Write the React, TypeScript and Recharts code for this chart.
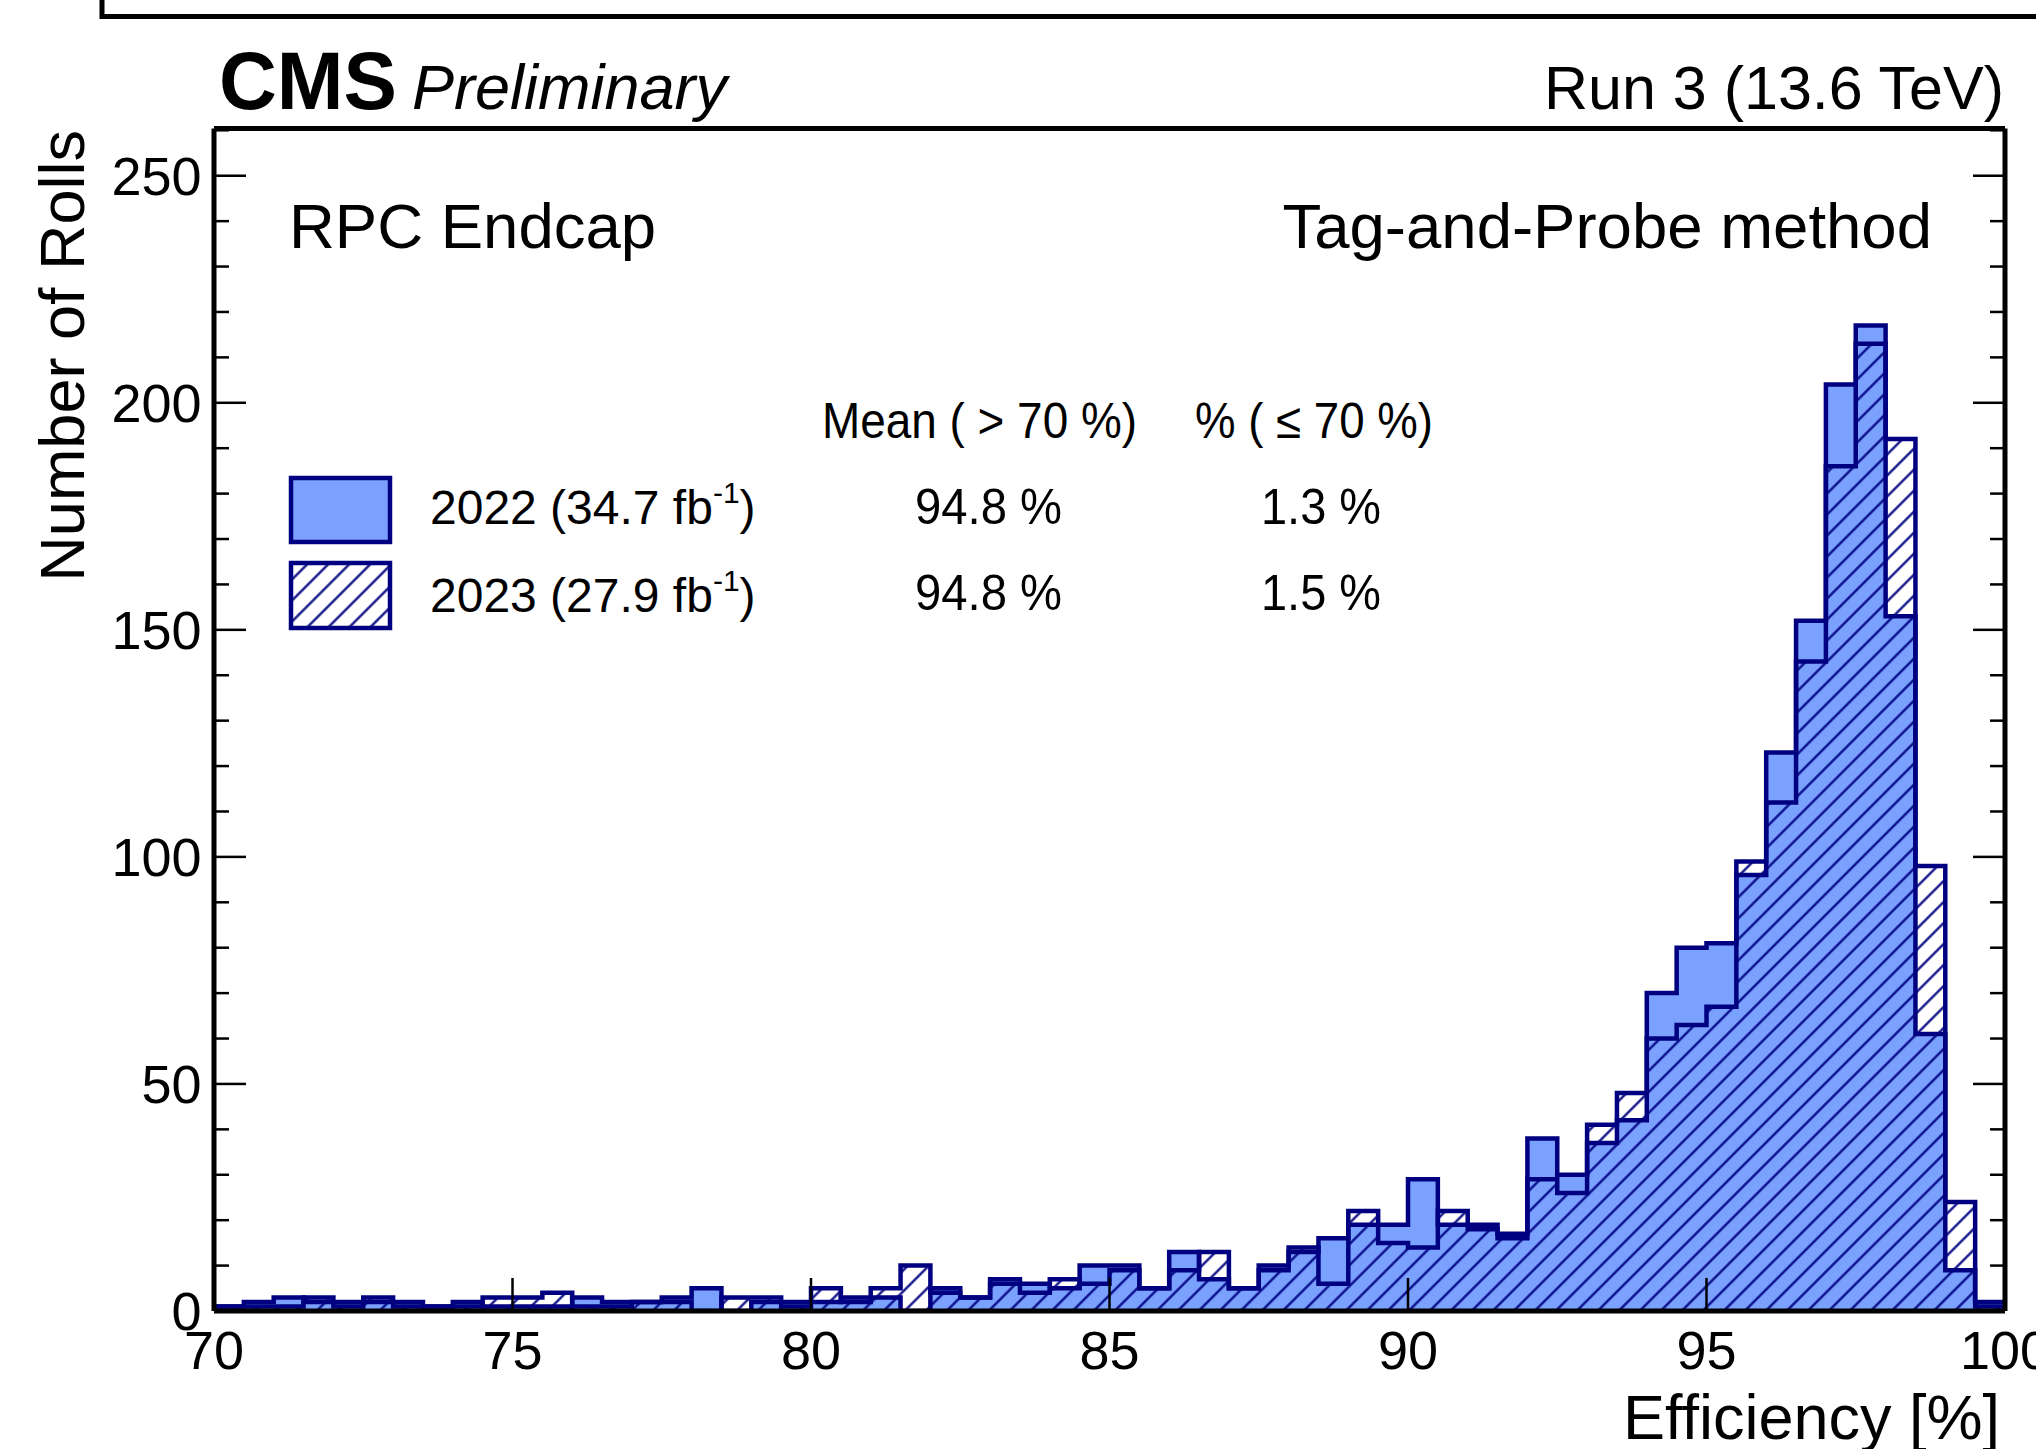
import { ComposedChart, Area, XAxis, YAxis } from 'recharts'

// histogram bins (0.5 % wide), lower edge of each bin
const binStart = [
  70, 70.5, 71, 71.5, 72, 72.5, 73, 73.5, 74, 74.5,
  75, 75.5, 76, 76.5, 77, 77.5, 78, 78.5, 79, 79.5,
  80, 80.5, 81, 81.5, 82, 82.5, 83, 83.5, 84, 84.5,
  85, 85.5, 86, 86.5, 87, 87.5, 88, 88.5, 89, 89.5,
  90, 90.5, 91, 91.5, 92, 92.5, 93, 93.5, 94, 94.5,
  95, 95.5, 96, 96.5, 97, 97.5, 98, 98.5, 99, 99.5,
]
const lastEdge = 100

const rolls2022 = [
  1, 2, 3, 2, 2, 2, 2, 1, 2, 1,
  1, 1, 3, 2, 2, 3, 5, 0, 2, 2,
  2, 3, 3, 0, 5, 3, 7, 6, 5, 10,
  10, 5, 13, 7, 5, 10, 13, 16, 19, 19,
  29, 19, 19, 16, 38, 30, 37, 42, 70, 80,
  81, 96, 123, 152, 204, 217, 153, 61, 9, 2,
]
const rolls2023 = [
  1, 1, 1, 3, 1, 3, 1, 1, 1, 3,
  3, 4, 1, 1, 2, 2, 0, 3, 3, 1,
  5, 2, 5, 10, 4, 3, 6, 4, 7, 6,
  9, 5, 9, 13, 5, 9, 14, 6, 22, 15,
  14, 22, 18, 17, 29, 26, 41, 48, 60, 63,
  67, 99, 112, 143, 186, 213, 192, 98, 24, 1,
]

const xMajorTicks = [70, 75, 80, 85, 90, 95, 100]
const xMinorTicks = [71, 72, 73, 74, 76, 77, 78, 79, 81, 82, 83, 84, 86, 87, 88, 89, 91, 92, 93, 94, 96, 97, 98, 99]
const yMajorTicks = [0, 50, 100, 150, 200, 250]
const yMinorTicks = [10, 20, 30, 40, 60, 70, 80, 90, 110, 120, 130, 140, 160, 170, 180, 190, 210, 220, 230, 240, 260]
const yMax = 260.4

const legendYears = ['2022', '2023']
const legendLumi = ['34.7', '27.9']
const meanAbove70 = ['94.8 %', '94.8 %']
const fracBelow70 = ['1.3 %', '1.5 %']

const NAVY = '#000080'
const BLUE = '#7ba1ff'
const FONT = "'Liberation Sans', Arial, Helvetica, sans-serif"

const histData = binStart.map((x, i) => ({ eff: x, r22: rolls2022[i], r23: rolls2023[i] }))
histData.push({ eff: lastEdge, r22: rolls2022[rolls2022.length - 1], r23: rolls2023[rolls2023.length - 1] })

const tickFont = { fontSize: 54, fill: '#000', fontFamily: FONT }
const tickLn = { stroke: '#000', strokeWidth: 2.5 }
const frameLn = { stroke: '#000', strokeWidth: 5 }
const noLabel = () => ''

const App = () => {
  return (
    <div style={{ position: 'absolute', left: 0, top: 0, width: 2036, height: 1449, background: '#fff', overflow: 'hidden' }}>
      <div style={{ position: 'absolute', left: 0, top: 0 }}>
        <ComposedChart
          width={2036}
          height={1449}
          data={histData}
          margin={{ top: 126.5, right: 29, bottom: 136, left: 212 }}
        >
          <defs>
            <pattern id="hatch23" patternUnits="userSpaceOnUse" width={14.85} height={14.85} patternTransform="rotate(45)">
              <line x1={7.4} y1={-1} x2={7.4} y2={16} stroke={NAVY} strokeWidth={2.2} />
            </pattern>
          </defs>

          {/* major axes first (they sit on the frame), minor ones 1px further out */}
          <XAxis xAxisId="x" dataKey="eff" type="number" domain={[70, 100]} allowDataOverflow ticks={xMajorTicks} interval={0}
            height={1} tickSize={-33} tickMargin={53} tick={tickFont} tickLine={tickLn} axisLine={frameLn} />
          <XAxis xAxisId="xMinor" type="number" domain={[70, 100]} allowDataOverflow ticks={xMinorTicks} interval={0}
            height={1} tickSize={-18} tickFormatter={noLabel} axisLine={false} tickLine={tickLn} />
          <XAxis xAxisId="xTop" orientation="top" type="number" domain={[70, 100]} allowDataOverflow ticks={xMajorTicks} interval={0}
            height={1} tickSize={-33} tickFormatter={noLabel} tickLine={tickLn} axisLine={frameLn} />
          <XAxis xAxisId="xTopMinor" orientation="top" type="number" domain={[70, 100]} allowDataOverflow ticks={xMinorTicks} interval={0}
            height={1} tickSize={-18} tickFormatter={noLabel} axisLine={false} tickLine={tickLn} />

          <YAxis yAxisId="y" type="number" domain={[0, yMax]} allowDataOverflow ticks={yMajorTicks} interval={0}
            width={1} tickSize={-32} tickMargin={44.5} tick={tickFont} tickLine={tickLn} axisLine={frameLn} />
          <YAxis yAxisId="yMinor" type="number" domain={[0, yMax]} allowDataOverflow ticks={yMinorTicks} interval={0}
            width={1} tickSize={-16} tickFormatter={noLabel} axisLine={false} tickLine={tickLn} />
          <YAxis yAxisId="yRight" orientation="right" type="number" domain={[0, yMax]} allowDataOverflow ticks={yMajorTicks} interval={0}
            width={1} tickSize={-32} tickFormatter={noLabel} tickLine={tickLn} axisLine={frameLn} />
          <YAxis yAxisId="yRightMinor" orientation="right" type="number" domain={[0, yMax]} allowDataOverflow ticks={yMinorTicks} interval={0}
            width={1} tickSize={-16} tickFormatter={noLabel} axisLine={false} tickLine={tickLn} />

          <Area
            xAxisId="x"
            yAxisId="y"
            type="stepAfter"
            dataKey="r22"
            fill={BLUE}
            fillOpacity={1}
            stroke={NAVY}
            strokeWidth={4.5}
            dot={false}
            activeDot={false}
            isAnimationActive={false}
          />
          <Area
            xAxisId="x"
            yAxisId="y"
            type="stepAfter"
            dataKey="r23"
            fill="url(#hatch23)"
            fillOpacity={1}
            stroke={NAVY}
            strokeWidth={4.5}
            dot={false}
            activeDot={false}
            isAnimationActive={false}
          />
        </ComposedChart>
      </div>

      <svg width={2036} height={1449} style={{ position: 'absolute', left: 0, top: 0, pointerEvents: 'none' }} fontFamily={FONT}>
        <defs>
          <pattern id="hatchLeg" patternUnits="userSpaceOnUse" width={14.85} height={14.85} patternTransform="rotate(45)">
            <line x1={7.4} y1={-1} x2={7.4} y2={16} stroke={NAVY} strokeWidth={2.2} />
          </pattern>
        </defs>

        {/* outer box edge */}
        <path d="M102 0 V16.5 H2036" fill="none" stroke="#000" strokeWidth={5} />

        <text x={219} y={108.5} fontSize={82} fontWeight="bold" textLength={178} lengthAdjust="spacingAndGlyphs">CMS</text>
        <text x={412} y={108.5} fontSize={63} fontStyle="italic">Preliminary</text>
        <text x={2004} y={108.5} fontSize={61} textAnchor="end">Run 3 (13.6 TeV)</text>

        <text x={289} y={247.5} fontSize={63.5}>RPC Endcap</text>
        <text x={1932} y={247.5} fontSize={63.5} textAnchor="end">Tag-and-Probe method</text>

        <text x={822} y={438} fontSize={50} textLength={315} lengthAdjust="spacingAndGlyphs">Mean ( &gt; 70 %)</text>
        <text x={1195} y={438} fontSize={50} textLength={238} lengthAdjust="spacingAndGlyphs">% ( ≤ 70 %)</text>

        {legendYears.map((yr, i) => {
          const base = i === 0 ? 524 : 612
          const boxY = i === 0 ? 478 : 563
          return (
            <g key={yr}>
              {i === 0 ? (
                <rect x={291} y={boxY} width={99} height={64} fill={BLUE} stroke={NAVY} strokeWidth={4.5} />
              ) : (
                <>
                  <rect x={291} y={boxY} width={99} height={65} fill="#fff" />
                  <rect x={291} y={boxY} width={99} height={65} fill="url(#hatchLeg)" stroke={NAVY} strokeWidth={4.5} />
                </>
              )}
              <text x={430} y={base} fontSize={48}>
                {yr} ({legendLumi[i]} fb<tspan dy={-21} fontSize={30}>-1</tspan><tspan dy={21}>)</tspan>
              </text>
              <text x={915} y={i === 0 ? 524 : 610} fontSize={50} textLength={147} lengthAdjust="spacingAndGlyphs">{meanAbove70[i]}</text>
              <text x={1261} y={i === 0 ? 524 : 610} fontSize={50} textLength={120} lengthAdjust="spacingAndGlyphs">{fracBelow70[i]}</text>
            </g>
          )
        })}

        <text transform="translate(84,130) rotate(-90)" textAnchor="end" fontSize={63}>Number of Rolls</text>
        <text x={2000} y={1439} textAnchor="end" fontSize={63}>Efficiency [%]</text>
      </svg>
    </div>
  )
}

export default App
